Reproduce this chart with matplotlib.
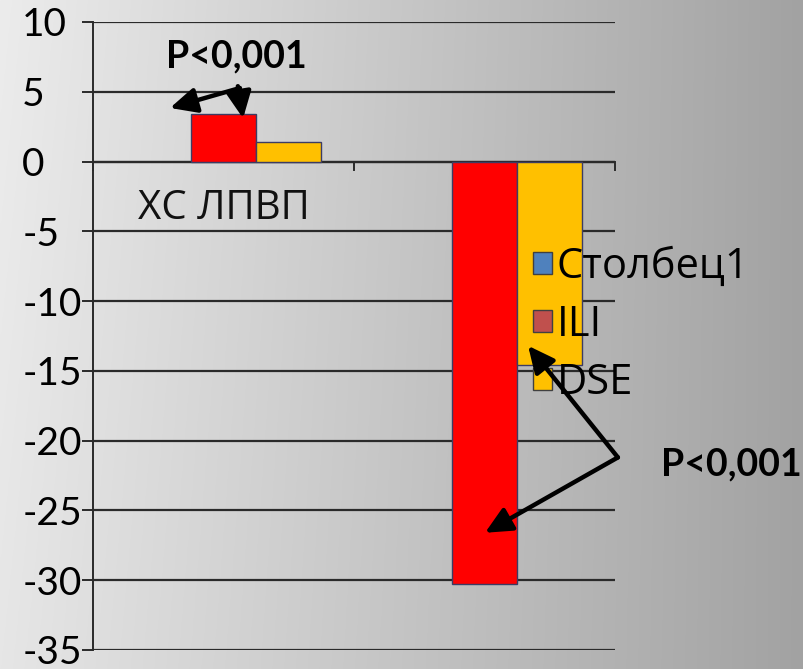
import numpy as np
import matplotlib
matplotlib.use("Agg")
import matplotlib.pyplot as plt
from matplotlib.patches import Patch

plt.rcParams['font.family'] = ['Lato', 'Open Sans', 'DejaVu Sans']

categories = ["ХС ЛПВП", ""]
series_names = ["Столбец1", "ILI", "DSE"]
stolbec1 = [0.0, 0.0]
ili = [3.4, -30.3]
dse = [1.4, -14.6]
bar_colors = ["#4f81bd", "#ff0000", "#ffc000"]
legend_colors = ["#4f81bd", "#c0504d", "#ffc000"]
yticks = [10, 5, 0, -5, -10, -15, -20, -25, -30, -35]
p_label = "P<0,001"

W, H = 804, 669
fig = plt.figure(figsize=(W / 100, H / 100), dpi=100)

# grey gradient background
bg = fig.add_axes([0, 0, 1, 1], zorder=-10)
gx = np.linspace(0, 1, 400)
gy = np.linspace(0, 1, 300)
GX, GY = np.meshgrid(gx, gy)
val = (236 - 74 * GX - 6 * GY * (1 - GX)) / 255.0
bg.imshow(np.dstack([val, val, val]), aspect='auto', extent=[0, 1, 0, 1],
          origin='upper')
bg.axis('off')

ax = fig.add_axes([93 / W, 1 - 650 / H, (615 - 93) / W, (650 - 22) / H])
ax.set_facecolor('none')

x = np.arange(len(categories))
bw = 0.25
edge = '#3c3c64'
for i, (vals, col) in enumerate(zip([stolbec1, ili, dse], bar_colors)):
    ax.bar(x + (i - 1) * bw, vals, width=bw, color=col, edgecolor=edge,
           linewidth=0 if i == 0 else 1.0, zorder=3)

ax.set_xlim(-0.5, 1.5)
ax.set_ylim(-35, 10)
ax.set_yticks(yticks)
ax.set_yticklabels([str(t) for t in yticks])
ax.yaxis.grid(True, color='#2a2a2a', linewidth=1.6, zorder=1)
ax.tick_params(axis='y', length=8, width=1.4, color='#2a2a2a', pad=43,
               labelsize=28)
for lab in ax.get_yticklabels():
    lab.set_horizontalalignment('left')

for s in ['top', 'right', 'bottom']:
    ax.spines[s].set_visible(False)
ax.spines['left'].set_color('#2a2a2a')
ax.spines['left'].set_linewidth(1.4)

# category axis drawn at zero with boundary ticks
ax.set_xticks([])
ax.axhline(0, color='#2a2a2a', linewidth=1.6, zorder=2)
for b in [-0.5, 0.5, 1.5]:
    ax.plot([b, b], [0, -0.6], color='#2a2a2a', linewidth=1.4, zorder=2,
            clip_on=False)
for xi, c in zip(x, categories):
    ax.text(xi, -3.4, c, ha='center', va='center', fontsize=29,
            family=['Open Sans', 'DejaVu Sans'], color='#111111')

# legend
handles = [Patch(facecolor=c, edgecolor='#404040', linewidth=1.0)
           for c in legend_colors]
leg = ax.legend(handles, series_names, loc='upper left',
                bbox_to_anchor=(533 / W, 1 - 246 / H),
                bbox_transform=fig.transFigure, frameon=False,
                handlelength=0.45, handleheight=0.45,
                handletextpad=0.12, labelspacing=0.38, borderpad=0,
                borderaxespad=0,
                prop={'family': ['Open Sans', 'DejaVu Sans'], 'size': 30})
leg.set_zorder(5)

# significance annotations
arrow = dict(arrowstyle='-|>,head_length=0.8,head_width=0.38',
             color='black', lw=3.2, shrinkA=0, shrinkB=0, mutation_scale=20)
ax.annotate('', xy=(-0.205, 3.84), xytext=(0.063, 5.27), arrowprops=arrow,
            zorder=6)
ax.annotate('', xy=(0.075, ili[0] - 0.3), xytext=(0.055, 5.4),
            arrowprops=arrow, zorder=6)
ax.text(0.048, 7.5, p_label, ha='center', va='center', fontsize=27,
        fontweight='bold', zorder=6)

ax.annotate('', xy=(1.167, dse[1] + 1.4), xytext=(1.511, -21.2),
            arrowprops=arrow, annotation_clip=False, zorder=6)
ax.annotate('', xy=(1.002, -26.6), xytext=(1.511, -21.2),
            arrowprops=arrow, annotation_clip=False, zorder=6)
ax.text(1.944, -21.7, p_label, ha='center', va='center', fontsize=27,
        fontweight='bold', clip_on=False, zorder=6)

fig.savefig('out.png', dpi=100)
